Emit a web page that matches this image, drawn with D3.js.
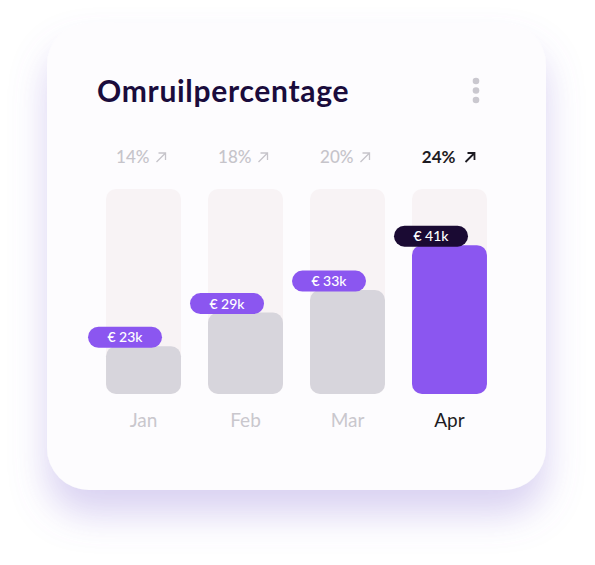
<!DOCTYPE html>
<html lang="en">
	<head>
		<meta charset="utf-8">
		<title>Omruilpercentage</title>
		<script type="text/javascript" src="https://cdn.jsdelivr.net/npm/d3@7"></script>
		<style type="text/css">
			* { margin: 0; padding: 0; }
			body { background-color: white; font-family: Lato, sans-serif; }
			svg { display: block; }
		</style>
	</head>
	<body>
		<div id="chart"></div>
		<script type="text/javascript">

			//data
			var months = ["Jan", "Feb", "Mar", "Apr"];
			var values = [23, 29, 33, 41];
			var percents = [14, 18, 20, 24];
			var active = 3;

			var w = 595;
			var h = 565;

			var svg = d3.select("#chart")
				.append("svg")
				.attr("width", w)
				.attr("height", h);

			var defs = svg.append("defs");
			var shadow = defs.append("filter")
				.attr("id", "shadow")
				.attr("x", "-30%").attr("y", "-30%")
				.attr("width", "160%").attr("height", "160%");
			shadow.append("feDropShadow")
				.attr("dx", 0).attr("dy", 24)
				.attr("stdDeviation", 18)
				.attr("flood-color", "#8a74d6")
				.attr("flood-opacity", 0.32);

			//card
			svg.append("rect")
				.attr("x", 47).attr("y", 23)
				.attr("width", 499).attr("height", 467)
				.attr("rx", 42)
				.attr("fill", "#fdfcfe")
				.attr("filter", "url(#shadow)");

			svg.append("text")
				.attr("x", 97).attr("y", 102)
				.attr("font-size", 30)
				.attr("font-weight", 700)
				.attr("letter-spacing", 0.7)
				.attr("fill", "#1a0c3c")
				.text("Omruilpercentage");

			//menu dots
			svg.selectAll(".dot")
				.data([81, 90.5, 100])
				.enter().append("circle")
				.attr("cx", 476).attr("cy", function(d) { return d; })
				.attr("r", 3.3)
				.attr("fill", "#cac8cf");

			//scales
			var x = d3.scaleBand()
				.domain(months)
				.range([79, 514])
				.padding(0.265);

			var trackTop = 189, trackBottom = 394;
			var y = d3.scaleLinear()
				.domain([14.5, 51])
				.range([trackBottom, trackTop]);

			var bars = svg.selectAll(".bar")
				.data(months)
				.enter().append("g")
				.attr("class", "bar");

			//background tracks
			bars.append("rect")
				.attr("x", function(d) { return x(d); })
				.attr("y", trackTop)
				.attr("width", x.bandwidth())
				.attr("height", trackBottom - trackTop)
				.attr("rx", 10)
				.attr("fill", "#f8f3f5");

			//value bars
			bars.append("rect")
				.attr("x", function(d) { return x(d); })
				.attr("y", function(d, i) { return y(values[i]); })
				.attr("width", x.bandwidth())
				.attr("height", function(d, i) { return trackBottom - y(values[i]); })
				.attr("rx", 10)
				.attr("fill", function(d, i) { return i == active ? "#8b56f0" : "#d7d5dc"; });

			//value pills
			var pw = 74, ph = 21;
			bars.append("rect")
				.attr("x", function(d) { return x(d) - 18; })
				.attr("y", function(d, i) { return y(values[i]) - 9 - ph / 2; })
				.attr("width", pw)
				.attr("height", ph)
				.attr("rx", ph / 2)
				.attr("fill", function(d, i) { return i == active ? "#1a0a33" : "#8b56f0"; });

			bars.append("text")
				.attr("x", function(d) { return x(d) - 18 + pw / 2; })
				.attr("y", function(d, i) { return y(values[i]) - 9; })
				.attr("dy", "0.36em")
				.attr("text-anchor", "middle")
				.attr("font-size", 14)
				.attr("font-weight", 500)
				.attr("fill", "white")
				.text(function(d, i) { return "€ " + values[i] + "k"; });

			//month labels
			bars.append("text")
				.attr("x", function(d) { return x(d) + x.bandwidth() / 2; })
				.attr("y", 427)
				.attr("text-anchor", "middle")
				.attr("font-size", 19)
				.attr("fill", function(d, i) { return i == active ? "#1d1b22" : "#c9c7cd"; })
				.text(function(d) { return d; });

			//percent labels with arrows
			var pct = bars.append("g")
				.attr("transform", function(d) { return "translate(" + (x(d) + x.bandwidth() / 2) + ",163)"; });

			pct.append("text")
				.attr("x", 6)
				.attr("text-anchor", "end")
				.attr("font-size", 17)
				.attr("font-weight", function(d, i) { return i == active ? 700 : 500; })
				.attr("fill", function(d, i) { return i == active ? "#1d1b22" : "#c6c4ca"; })
				.text(function(d, i) { return percents[i] + "%"; });

			pct.append("path")
				.attr("d", function(d, i) { return i == active ? "M16,-1 L25,-10 M18,-10 L25,-10 L25,-3" : "M13,-1 L22,-10 M15,-10 L22,-10 L22,-3"; })
				.attr("fill", "none")
				.attr("stroke-width", function(d, i) { return i == active ? 1.8 : 1.3; })
				.attr("stroke", function(d, i) { return i == active ? "#1d1b22" : "#c6c4ca"; });

		</script>
	</body>
</html>
